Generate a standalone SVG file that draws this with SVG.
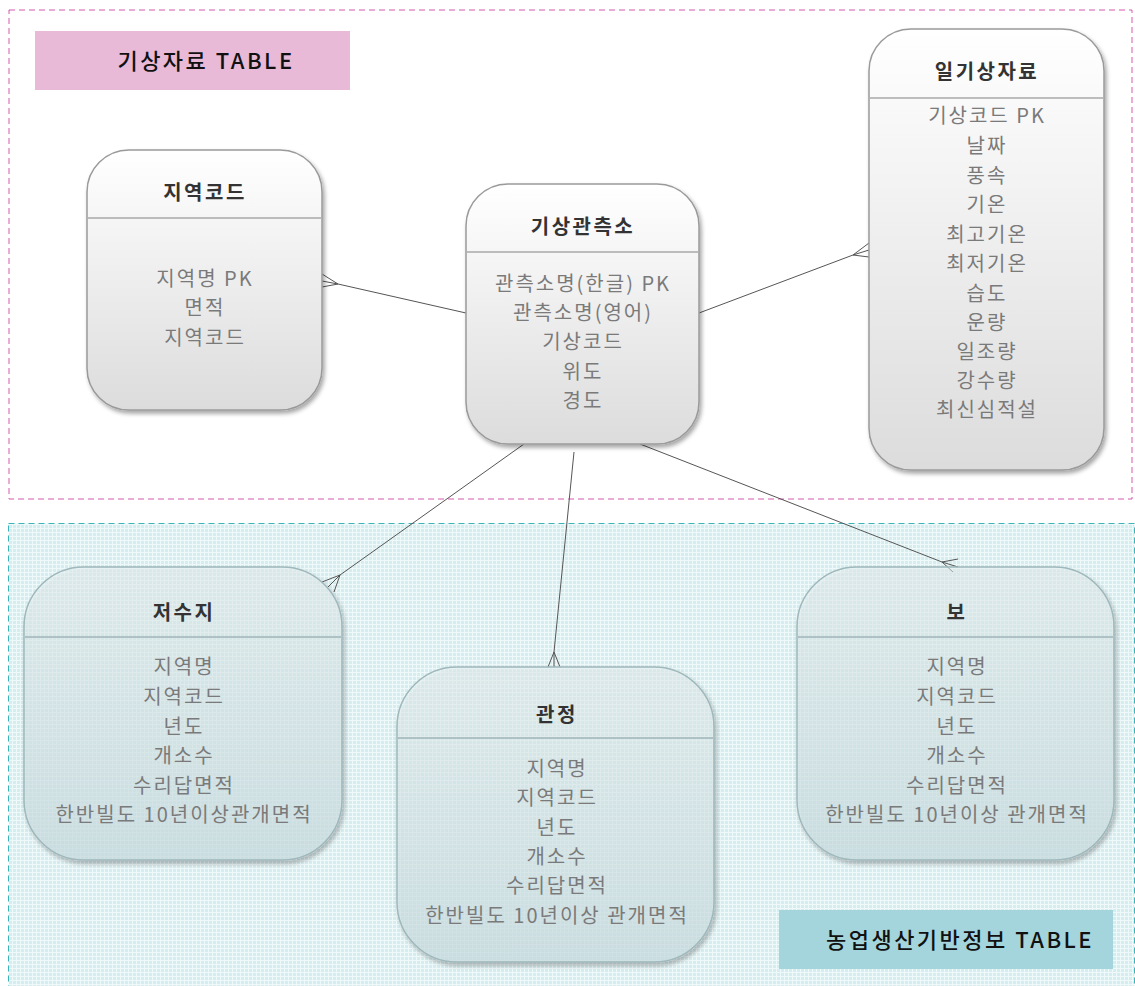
<svg xmlns="http://www.w3.org/2000/svg" width="1135" height="986" viewBox="0 0 1135 986">
<defs>
<style>
.title{font-family:"Noto Sans CJK KR","Noto Sans",sans-serif;font-size:20px;font-weight:bold;fill:#333;text-anchor:middle;letter-spacing:2.5px}
.item{font-family:"Noto Sans CJK KR","Noto Sans",sans-serif;font-size:20px;fill:#7a7a7a;text-anchor:middle;letter-spacing:2px}
.lbl{font-family:"Noto Sans CJK KR","Noto Sans",sans-serif;font-size:22px;font-weight:500;fill:#111;text-anchor:middle;letter-spacing:2.5px}
.node{fill:url(#gW);stroke:#9a9a9a;stroke-width:1.5;filter:url(#sh)}
.nodeB{fill:url(#gB);stroke:#9fb8bb;stroke-width:1.5;filter:url(#sh)}
.div{stroke:#a8a8a8;stroke-width:1.5}
.divB{stroke:#9fb5b8;stroke-width:1.5}
.con{stroke:#555;stroke-width:1;fill:none}
</style>
<linearGradient id="gW" x1="0" y1="0" x2="0" y2="1">
<stop offset="0" stop-color="#ffffff"/><stop offset="1" stop-color="#dcdcdc"/>
</linearGradient>
<linearGradient id="gB" x1="0" y1="0" x2="0" y2="1">
<stop offset="0" stop-color="#eef7f8" stop-opacity="0.45"/><stop offset="1" stop-color="#cde2e5" stop-opacity="0.65"/>
</linearGradient>
<pattern id="grid" width="4" height="4" patternUnits="userSpaceOnUse">
<rect width="4" height="4" fill="#d6edf0"/>
<path d="M0 0.5H4M0.5 0V4" stroke="#eff9fa" stroke-width="1"/>
</pattern>
<filter id="sh" x="-10%" y="-10%" width="125%" height="125%">
<feDropShadow dx="2" dy="3" stdDeviation="2" flood-color="#000" flood-opacity="0.35"/>
</filter>
</defs>

<g id="areas">
<rect x="9" y="10" width="1123" height="489" fill="none" stroke="#d55aad" stroke-width="1" stroke-dasharray="6,4"/>
<rect x="8.5" y="523.5" width="1126" height="463" fill="url(#grid)" stroke="#3bb3b8" stroke-width="1" stroke-dasharray="6,4"/>
</g>

<g id="label-weather">
<rect x="35" y="31" width="315" height="59" fill="#e8bad8"/>
<text class="lbl" x="206" y="69">기상자료 TABLE</text>
</g>
<g id="label-agri">
<rect x="779" y="910" width="334" height="59" fill="#a5d5dc"/>
<text class="lbl" x="960" y="948">농업생산기반정보 TABLE</text>
</g>

<g id="connectors" class="con">
<path d="M466 313 L338 284"/>
<path d="M338 284 L322 274 M338 284 L322 281 M338 284 L322 287"/>
<path d="M699 313 L853 255"/>
<path d="M853 255 L869 243 M853 255 L869 250 M853 255 L869 257"/>
<path d="M524 444 L340 575"/>
<path d="M340 575 L322 582 M340 575 L327 588 M340 575 L334 592"/>
<path d="M574 452 L554 652"/>
<path d="M554 652 L548 667 M554 652 L554 667 M554 652 L560 667"/>
<path d="M640 444 L942 562"/>
<path d="M942 562 L958 559 M942 562 L958 567 M942 562 L953 572"/>
</g>

<g id="node-region">
<rect class="node" x="87" y="150" width="235" height="260" rx="42"/>
<line class="div" x1="88" y1="218" x2="321" y2="218"/>
<text class="title" x="205" y="200">지역코드</text>
<text class="item" x="205" y="286">지역명 PK</text>
<text class="item" x="205" y="315">면적</text>
<text class="item" x="205" y="345">지역코드</text>
</g>

<g id="node-station">
<rect class="node" x="466" y="184" width="233" height="260" rx="42"/>
<line class="div" x1="467" y1="252" x2="698" y2="252"/>
<text class="title" x="583" y="234">기상관측소</text>
<text class="item" x="583" y="291">관측소명(한글) PK</text>
<text class="item" x="583" y="320">관측소명(영어)</text>
<text class="item" x="583" y="349">기상코드</text>
<text class="item" x="583" y="379">위도</text>
<text class="item" x="583" y="408">경도</text>
</g>

<g id="node-daily">
<rect class="node" x="869" y="29" width="235" height="441" rx="42"/>
<line class="div" x1="870" y1="98" x2="1103" y2="98"/>
<text class="title" x="987" y="79">일기상자료</text>
<text class="item" x="987" y="123">기상코드 PK</text>
<text class="item" x="987" y="153">날짜</text>
<text class="item" x="987" y="183">풍속</text>
<text class="item" x="987" y="212">기온</text>
<text class="item" x="987" y="242">최고기온</text>
<text class="item" x="987" y="271">최저기온</text>
<text class="item" x="987" y="301">습도</text>
<text class="item" x="987" y="330">운량</text>
<text class="item" x="987" y="359">일조량</text>
<text class="item" x="987" y="388">강수량</text>
<text class="item" x="987" y="417">최신심적설</text>
</g>

<g id="node-reservoir">
<rect class="nodeB" x="24" y="567" width="318" height="293" rx="60"/>
<line class="divB" x1="25" y1="637" x2="341" y2="637"/>
<text class="title" x="184" y="620">저수지</text>
<text class="item" x="184" y="674">지역명</text>
<text class="item" x="184" y="704">지역코드</text>
<text class="item" x="184" y="734">년도</text>
<text class="item" x="184" y="763">개소수</text>
<text class="item" x="184" y="793">수리답면적</text>
<text class="item" x="184" y="822">한반빌도 10년이상관개면적</text>
</g>

<g id="node-well">
<rect class="nodeB" x="397" y="667" width="317" height="295" rx="60"/>
<line class="divB" x1="398" y1="738" x2="713" y2="738"/>
<text class="title" x="557" y="722">관정</text>
<text class="item" x="557" y="776">지역명</text>
<text class="item" x="557" y="805">지역코드</text>
<text class="item" x="557" y="835">년도</text>
<text class="item" x="557" y="864">개소수</text>
<text class="item" x="557" y="893">수리답면적</text>
<text class="item" x="557" y="923">한반빌도 10년이상 관개면적</text>
</g>

<g id="node-weir">
<rect class="nodeB" x="797" y="567" width="317" height="293" rx="60"/>
<line class="divB" x1="798" y1="637" x2="1113" y2="637"/>
<text class="title" x="957" y="620">보</text>
<text class="item" x="957" y="674">지역명</text>
<text class="item" x="957" y="704">지역코드</text>
<text class="item" x="957" y="734">년도</text>
<text class="item" x="957" y="763">개소수</text>
<text class="item" x="957" y="793">수리답면적</text>
<text class="item" x="957" y="822">한반빌도 10년이상 관개면적</text>
</g>
</svg>
